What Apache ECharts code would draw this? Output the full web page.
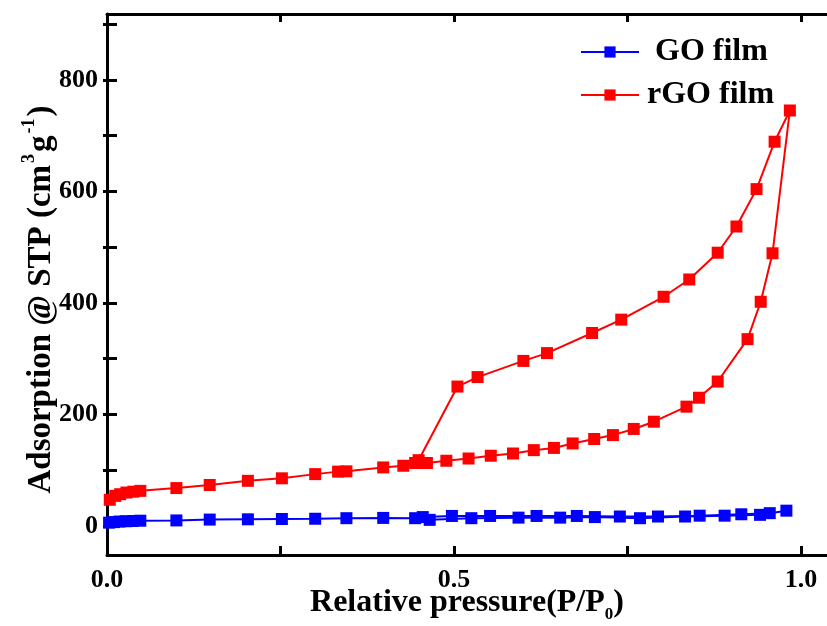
<!DOCTYPE html>
<html>
<head>
<meta charset="utf-8">
<script src="https://cdn.jsdelivr.net/npm/echarts@6/dist/echarts.min.js"></script>
<style>
    html, body { margin: 0; padding: 0; background: #fff; }
    #chart { width: 827px; height: 626px; }
</style>
</head>
<body>
<div id="chart"></div>
<script>
// rGO film: adsorption branch then desorption branch
const rgoX = [0.004, 0.012, 0.019, 0.028, 0.038, 0.048, 0.10, 0.148, 0.203, 0.252, 0.30, 0.333, 0.345, 0.398, 0.427,
    0.444, 0.461, 0.489, 0.521, 0.553, 0.585, 0.615, 0.644, 0.671, 0.702, 0.729, 0.759, 0.788, 0.835, 0.853,
    0.880, 0.923, 0.942, 0.959, 0.984,
    0.962, 0.936, 0.907, 0.880, 0.839, 0.802, 0.741, 0.699, 0.634, 0.600, 0.534, 0.505, 0.449];
const rgoY = [47, 54, 57, 60, 61.5, 63, 68, 73.5, 81, 85.5, 93, 97.5, 98, 105, 108,
    113, 113, 117, 121, 126, 130, 136, 140, 148, 156, 163, 174, 187, 214, 230,
    259, 335, 402, 489, 745,
    689, 604, 537, 490, 442, 411, 370, 346, 310, 296, 267, 250, 118];

// GO film
const goX = [0.003, 0.01, 0.018, 0.027, 0.037, 0.048, 0.10, 0.148, 0.203, 0.252, 0.30, 0.345, 0.398, 0.444,
    0.465, 0.525, 0.593, 0.653, 0.703, 0.768, 0.833, 0.89, 0.941, 0.979,
    0.955, 0.914, 0.854, 0.794, 0.739, 0.677, 0.619, 0.552, 0.497, 0.455];
const goY = [6, 7, 8, 8.5, 9, 9.5, 10, 11.5, 12, 12.5, 13, 14, 14.5, 14,
    11, 14, 15, 15, 16, 14, 17, 18.5, 20, 27.5,
    23, 21, 18.5, 17, 17, 18, 18, 18, 18, 16];

const xTicks = [0, 0.25, 0.5, 0.75, 1.0];
const xLabels = [0, 0.5, 1.0];
const yTicks = [0, 100, 200, 300, 400, 500, 600, 700, 800, 900];
const yLabels = [0, 200, 400, 600, 800];

const font = '"Liberation Serif", "Times New Roman", serif';

function pairs(xs, ys) {
    return xs.map(function (x, i) { return [x, ys[i]]; });
}

const chart = echarts.init(document.getElementById('chart'));

const lineStyle = { color: '#000', width: 3 };

const option = {
    animation: false,
    backgroundColor: '#fff',
    grid: { left: 107, top: 14, right: 0, bottom: 71, outerBoundsMode: 'none' },
    legend: {
        orient: 'vertical',
        left: 580,
        top: 36,
        padding: 0,
        itemWidth: 58,
        itemHeight: 14,
        itemGap: 11,
        formatter: function (name) {
            return name === 'GO film' ? ' ' + name : name;
        },
        textStyle: { fontFamily: font, fontWeight: 'bold', fontSize: 32, color: '#000', padding: [0, 0, 0, 3] },
        data: ['GO film', 'rGO film']
    },
    xAxis: [{
        type: 'value',
        min: 0,
        max: 1.0375,
        name: '{a|Relative pressure(P/P}{b|0}{a|)}',
        nameLocation: 'middle',
        nameGap: 27,
        nameMoveOverlap: false,
        nameTextStyle: {
            rich: {
                a: { fontFamily: font, fontWeight: 'bold', fontSize: 32, color: '#000' },
                b: { fontFamily: font, fontWeight: 'bold', fontSize: 17, color: '#000', padding: [24, 0, 0, 0] }
            }
        },
        axisLine: { onZero: false, lineStyle: lineStyle },
        axisTick: { inside: true, length: 9, lineStyle: lineStyle, customValues: xTicks },
        axisLabel: {
            customValues: xLabels,
            margin: 12,
            fontFamily: font, fontWeight: 'bold', fontSize: 26, color: '#000',
            formatter: function (v) { return v.toFixed(1); }
        },
        splitLine: { show: false }
    }, {
        type: 'value',
        position: 'top',
        min: 0,
        max: 1.0375,
        axisLine: { onZero: false, lineStyle: lineStyle },
        axisTick: { inside: true, length: 8, lineStyle: lineStyle, customValues: xTicks },
        axisLabel: { show: false },
        splitLine: { show: false }
    }],
    yAxis: [{
        type: 'value',
        min: -52,
        max: 918,
        name: '{a|Adsorption @ STP (cm}{s|3}{a|g}{s|-1}{a|)}',
        nameLocation: 'middle',
        nameGap: 45,
        nameRotate: 90,
        nameMoveOverlap: false,
        nameTextStyle: {
            padding: [0, 30, 0, 0],
            rich: {
                a: { fontFamily: font, fontWeight: 'bold', fontSize: 33, color: '#000' },
                s: { fontFamily: font, fontWeight: 'bold', fontSize: 18, color: '#000', padding: [0, 2, 24, 2] }
            }
        },
        axisLine: { onZero: false, lineStyle: lineStyle },
        axisTick: { inside: true, length: 10, lineStyle: lineStyle, customValues: yTicks },
        axisLabel: {
            customValues: yLabels,
            margin: 9,
            fontFamily: font, fontWeight: 'bold', fontSize: 26, color: '#000'
        },
        splitLine: { show: false }
    }, {
        type: 'value',
        position: 'right',
        min: -52,
        max: 918,
        axisLine: { show: false },
        axisTick: { inside: true, length: 4, lineStyle: lineStyle, customValues: yTicks },
        axisLabel: { show: false },
        splitLine: { show: false }
    }],
    series: [{
        name: 'GO film',
        type: 'line',
        data: pairs(goX, goY),
        symbol: 'rect',
        symbolSize: 12,
        color: '#0000ff',
        lineStyle: { color: '#0000ff', width: 2 },
        itemStyle: { color: '#0000ff' }
    }, {
        name: 'rGO film',
        type: 'line',
        data: pairs(rgoX, rgoY),
        symbol: 'rect',
        symbolSize: 12,
        color: '#ff0000',
        lineStyle: { color: '#ff0000', width: 2 },
        itemStyle: { color: '#ff0000' }
    }]
};

chart.setOption(option);
</script>
</body>
</html>
